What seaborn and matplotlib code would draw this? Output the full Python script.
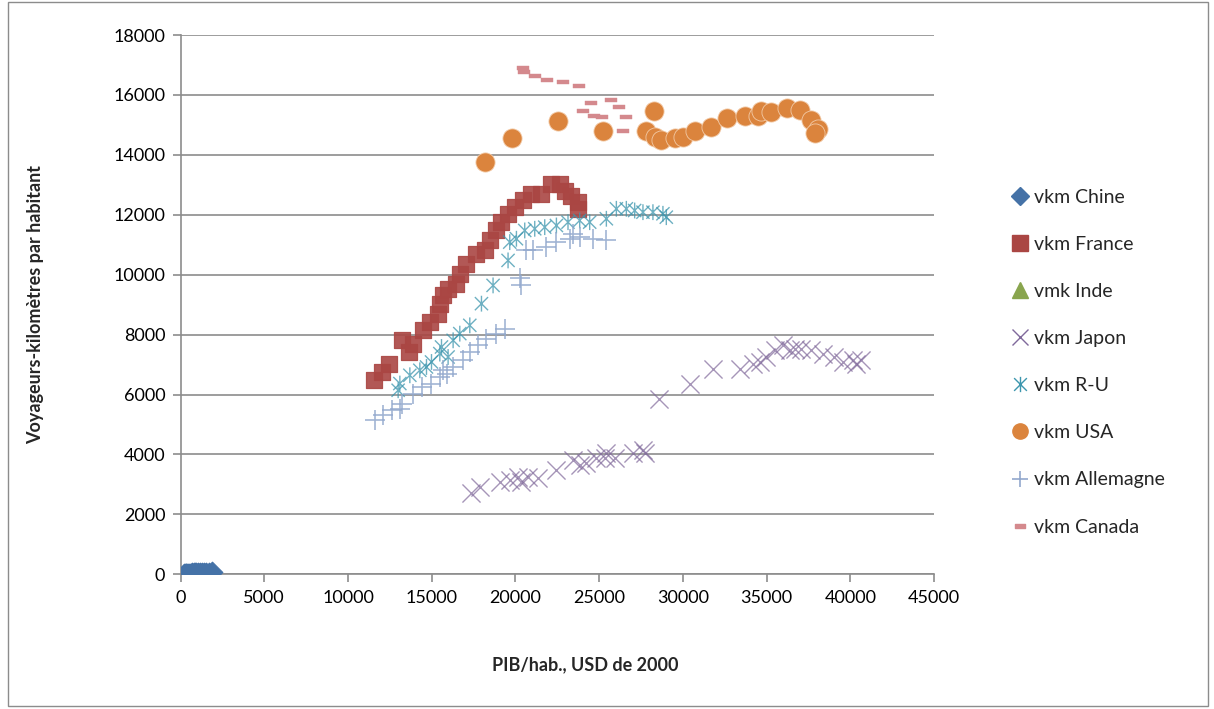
import numpy as np
import pandas as pd
import matplotlib
matplotlib.use("Agg")
import matplotlib.pyplot as plt
from matplotlib.path import Path
from matplotlib.lines import Line2D
import seaborn as sns

# GDP per head (USD 2000) and passenger-km per head
chine_x = [200, 250, 300, 350, 400, 450, 500, 560, 620, 700, 780, 860, 950, 1050, 1150, 1270, 1400, 1550, 1720, 1900]
chine_y = [10, 12, 14, 16, 18, 20, 22, 24, 26, 28, 30, 33, 36, 39, 42, 46, 50, 54, 58, 64]

france_x = [11546, 12005, 12461, 13199, 13653, 13900, 14488, 14888, 15384, 15485, 15682, 15980, 16481, 16678,
            17036, 17674, 18170, 18468, 18867, 19166, 19560, 19960, 20455, 20955, 21552, 22149, 22645, 22943,
            23343, 23737, 23737]
france_y = [6477, 6753, 7033, 7810, 7420, 7700, 8143, 8420, 8700, 9033, 9310, 9533, 9700, 10033,
            10367, 10700, 10810, 11143, 11477, 11753, 12033, 12253, 12477, 12700, 12700, 13033, 13033, 12810,
            12643, 12420, 12200]

inde_x = []
inde_y = []

japon_x = [17376, 17871, 19065, 19661, 20157, 20356, 20753, 21350, 22448, 23439, 23838, 24238, 24835, 25332,
           25431, 25928, 27020, 27616, 27718, 28570, 30402, 31793, 33386, 34180, 34580, 34978, 35474, 35970,
           36369, 36667, 37067, 37664, 38356, 39054, 39549, 40146, 40346, 40644]
japon_y = [2700, 2920, 3087, 3143, 3253, 3087, 3253, 3200, 3477, 3810, 3643, 3700, 3867, 3867,
           4033, 3867, 4033, 4143, 4033, 5867, 6367, 6867, 6867, 7033, 7087, 7253, 7477, 7643,
           7477, 7533, 7533, 7477, 7367, 7253, 7087, 7143, 7033, 7143]

ru_x = [12996, 13098, 13695, 14291, 14689, 14988, 15485, 15585, 15980, 16279, 16678, 17275, 17972, 18665,
        19560, 19661, 20060, 20556, 21153, 21750, 22448, 23140, 23838, 24435, 25431, 26028, 26624, 27121,
        27616, 28212, 28809, 29011]
ru_y = [6143, 6367, 6643, 6810, 6920, 7087, 7367, 7587, 7253, 7810, 8033, 8310, 9033, 9643,
        10477, 11087, 11200, 11477, 11533, 11587, 11643, 11753, 11810, 11753, 11867, 12200, 12200, 12143,
        12087, 12087, 12033, 11920]

usa_x = [18170, 19799, 22567, 25252, 27818, 28254, 28313, 28713, 29508, 30003, 30701, 31697, 32652, 33726,
         34478, 34681, 35277, 36232, 36968, 37664, 38058, 37862]
usa_y = [13757, 14557, 15133, 14810, 14787, 15477, 14610, 14500, 14567, 14610, 14787, 14943, 15233, 15310,
         15310, 15477, 15443, 15567, 15500, 15167, 14867, 14720]

allemagne_x = [11606, 12101, 12602, 13098, 13199, 13892, 14393, 14988, 15485, 15682, 15884, 16279, 16875,
               17275, 17770, 18271, 18867, 19363, 20258, 20356, 20657, 21052, 21850, 22448, 23241, 23439,
               23838, 24632, 25431]
allemagne_y = [5143, 5310, 5477, 5533, 5700, 6033, 6253, 6367, 6587, 6810, 6700, 6920, 7143,
               7420, 7643, 7867, 8033, 8200, 9877, 9643, 10810, 10810, 10920, 11087, 11200, 11367,
               11253, 11200, 11143]

canada_x = [20455, 20514, 21195, 21871, 22866, 23820, 24017, 24495, 24674, 25192, 25688, 26183, 26445, 26624]
canada_y = [16900, 16767, 16620, 16510, 16420, 16300, 15477, 15720, 15310, 15267, 15843, 15587, 14810, 15267]

labels = ["vkm Chine", "vkm France", "vmk Inde", "vkm Japon", "vkm R-U", "vkm USA", "vkm Allemagne", "vkm Canada"]
colors = ["#4572A7", "#AA4643", "#89A54E", "#80699B", "#3D96AE", "#DB843D", "#92A8CD", "#D4898D"]

# Excel-like asterisk (X with a vertical bar) and flat dash markers
asterisk = Path([(-1, -1), (1, 1), (-1, 1), (1, -1), (0, -1.2), (0, 1.2)],
                [Path.MOVETO, Path.LINETO, Path.MOVETO, Path.LINETO, Path.MOVETO, Path.LINETO])
dash = Path([(-1, -0.35), (1, -0.35), (1, 0.35), (-1, 0.35), (-1, -0.35)],
            [Path.MOVETO, Path.LINETO, Path.LINETO, Path.LINETO, Path.CLOSEPOLY])

sns.set_style("white")
plt.rcParams['font.family'] = ['Lato', 'DejaVu Sans']

fig = plt.figure(figsize=(12.14, 7.09), dpi=100)
ax = fig.add_axes([0.1487, 0.19, 0.6207, 0.7606])

sns.scatterplot(x=chine_x, y=chine_y, marker="D", s=110, color=colors[0], edgecolor=colors[0], ax=ax, zorder=3)
sns.scatterplot(x=france_x, y=france_y, marker="s", s=125, color=colors[1], edgecolor=colors[1], alpha=0.9, ax=ax, zorder=3)
sns.scatterplot(x=japon_x, y=japon_y, marker="x", s=170, color=colors[3], linewidth=1.0, alpha=0.7, ax=ax, zorder=3)
sns.scatterplot(x=ru_x, y=ru_y, marker=asterisk, s=130, facecolor="none", edgecolor=colors[4], linewidth=1.0,
                alpha=0.75, ax=ax, zorder=3)
sns.scatterplot(x=usa_x, y=usa_y, marker="o", s=190, color=colors[5], edgecolor="#F2C9A5", linewidth=0.6, ax=ax, zorder=3)
sns.scatterplot(x=allemagne_x, y=allemagne_y, marker="+", s=200, color=colors[6], linewidth=1.2, alpha=0.85, ax=ax, zorder=3)
sns.scatterplot(x=canada_x, y=canada_y, marker=dash, s=75, color=colors[7], edgecolor=colors[7], linewidth=0.3, ax=ax, zorder=3)

ax.set_xlim(0, 45000)
ax.set_ylim(0, 18000)
ax.set_xticks(np.arange(0, 45001, 5000))
ax.set_yticks(np.arange(0, 18001, 2000))
ax.yaxis.grid(True, color="#8C8C8C", linewidth=1.2)
ax.xaxis.grid(False)
ax.set_axisbelow(True)
for side in ["top", "right"]:
    ax.spines[side].set_visible(False)
for side in ["left", "bottom"]:
    ax.spines[side].set_color("#8C8C8C")
    ax.spines[side].set_linewidth(1.2)
ax.tick_params(axis="both", which="both", direction="out", length=6, width=1.2, color="#8C8C8C",
               labelsize=13, labelcolor="black", left=True, bottom=True, pad=5)

fig.text(0.482, 0.062, "PIB/hab., USD de 2000", fontsize=13, fontweight="bold", ha="center", va="center")
fig.text(0.029, 0.57, "Voyageurs-kilomètres par habitant", fontsize=13, fontweight="bold",
         rotation=90, ha="center", va="center")

handles = [
    Line2D([], [], linestyle="none", marker="D", markersize=9, color=colors[0]),
    Line2D([], [], linestyle="none", marker="s", markersize=11, color=colors[1]),
    Line2D([], [], linestyle="none", marker="^", markersize=11, color=colors[2]),
    Line2D([], [], linestyle="none", marker="x", markersize=11, color=colors[3], markeredgewidth=1.0),
    Line2D([], [], linestyle="none", marker=asterisk, markersize=11, markerfacecolor="none",
           markeredgecolor=colors[4], markeredgewidth=1.0),
    Line2D([], [], linestyle="none", marker="o", markersize=11, color=colors[5]),
    Line2D([], [], linestyle="none", marker="+", markersize=12, color=colors[6], markeredgewidth=1.2),
    Line2D([], [], linestyle="none", marker=dash, markersize=7, color=colors[7]),
]
fig.legend(handles, labels, loc="upper left", bbox_to_anchor=(0.826, 0.745), frameon=False, fontsize=14,
           labelspacing=1.55, handletextpad=0.2, handlelength=1.0, borderaxespad=0)

# chart border like the spreadsheet frame
fig.add_artist(plt.Rectangle((0.007, 0.004), 0.988, 0.993, transform=fig.transFigure, fill=False,
                             edgecolor="#8C8C8C", linewidth=1.0))

fig.savefig("out.png", dpi=100)
